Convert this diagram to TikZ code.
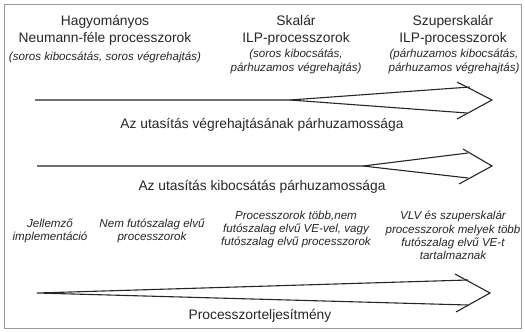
\documentclass[tikz,border=0pt]{standalone}
\usepackage{fontspec}
\setmainfont{Liberation Sans}
\begin{document}
\begin{tikzpicture}[x=1pt,y=-1pt,
  frame/.style={draw=black!40,line width=0.8pt},
  head/.style={align=center,inner sep=0pt,text=black!85,font=\fontsize{13.8}{17}\selectfont},
  note/.style={align=center,inner sep=0pt,text=black!85,font=\fontsize{11.6}{13.2}\selectfont\itshape},
  axis/.style={align=center,inner sep=0pt,text=black!85,font=\fontsize{13.8}{17}\selectfont},
  wedge/.style={draw=black!85,line width=1.1pt,line join=miter}]
\useasboundingbox (0,0) rectangle (525,332);
\draw[frame] (4,4) rectangle (521,328);

% headings
\node[head] (h1) at (105,30) {Hagyományos\\Neumann-féle processzorok};
\node[note] (n1) at (105,57) {(soros kibocsátás, soros végrehajtás)};
\node[head] (h2) at (296,30) {Skalár\\ILP-processzorok};
\node[note] (n2) at (296,61.5) {(soros kibocsátás,\\párhuzamos végrehajtás)};
\node[head] (h3) at (453,30) {Szuperskalár\\ILP-processzorok};
\node[note] (n3) at (454,61.5) {(párhuzamos kibocsátás,\\párhuzamos végrehajtás)};

% arrow 1
\coordinate (a1s) at (35,100);
\coordinate (a1m) at (290,100);
\draw[wedge] (a1s) -- (a1m) -- (470,87);
\draw[wedge] (a1m) -- (467,113);
\draw[wedge] (457,82) -- (492,100) -- (457,119);
\node[axis] (t1) at (262,125) {Az utasítás végrehajtásának párhuzamossága};

% arrow 2
\coordinate (a2s) at (37,166);
\coordinate (a2m) at (363,166);
\draw[wedge] (a2s) -- (a2m) -- (468,153);
\draw[wedge] (a2m) -- (468,178);
\draw[wedge] (463,149) -- (492,166) -- (459,184);
\node[axis] (t2) at (262,187) {Az utasítás kibocsátás párhuzamossága};

% bottom notes
\node[note] (b1) at (50,231) {Jellemző\\implementáció};
\node[note] (b2) at (152,231) {Nem futószalag elvű\\processzorok};
\node[note] (b3) at (296,229.5) {Processzorok több,nem\\futószalag elvű VE-vel, vagy\\futószalag elvű processzorok};
\node[note] (b4) at (453,235.5) {VLV és szuperskalár\\processzorok melyek több\\futószalag elvű VE-t\\tartalmaznak};

% arrow 3
\coordinate (a3s) at (37,293);
\draw[wedge] (468,280) -- (a3s) -- (468,305);
\draw[wedge] (455,274) -- (490,293) -- (456,312);
\node[axis] (t3) at (260,316) {Processzorteljesítmény};
\end{tikzpicture}
\end{document}
